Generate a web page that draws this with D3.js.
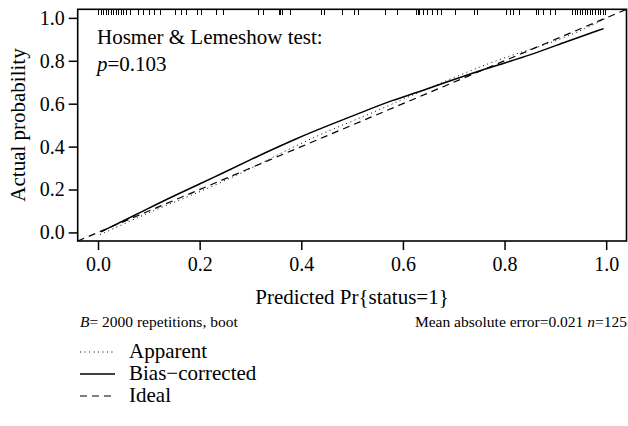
<!DOCTYPE html>
<html><head><meta charset="utf-8">
<script src="https://cdn.jsdelivr.net/npm/d3@7"></script>
<style>body{margin:0;background:#fff}svg{display:block}svg text{font-family:'Liberation Serif','Times New Roman','DejaVu Serif',serif !important;fill:#000}</style>
</head><body>
<svg id="c" width="628" height="426"></svg>
<script>
const xTicks = [0, 0.2, 0.4, 0.6, 0.8, 1.0];
const yTicks = [0, 0.2, 0.4, 0.6, 0.8, 1.0];
const biasX = [0.006, 0.086, 0.151, 0.23, 0.30, 0.397, 0.455, 0.521, 0.58, 0.632, 0.724, 0.789, 0.854, 0.92, 0.995];
const biasY = [0.003, 0.096, 0.173, 0.258, 0.34, 0.445, 0.5, 0.562, 0.617, 0.655, 0.733, 0.782, 0.829, 0.888, 0.95];
const appX = [0.004, 0.053, 0.118, 0.243, 0.37, 0.455, 0.521, 0.58, 0.658, 0.756, 0.822, 0.887, 0.95, 0.998];
const appY = [-0.01, 0.042, 0.112, 0.228, 0.383, 0.476, 0.538, 0.6, 0.68, 0.777, 0.833, 0.879, 0.94, 0.995];
const idealX = [-0.04, 1.04];
const rug = [0.0,0.005,0.01,0.015,0.02,0.025,0.03,0.035,0.04,0.045,0.05,0.055,0.063,0.079,0.089,0.100,0.110,0.122,
  0.151,0.163,0.174,0.194,0.202,0.233,0.246,0.315,0.324,0.356,0.359,0.363,0.377,0.439,0.444,0.481,0.504,0.511,
  0.565,0.589,0.626,0.629,0.632,0.640,0.648,0.658,0.667,0.675,0.703,0.740,0.746,0.802,0.810,0.816,0.828,
  0.861,0.866,0.875,0.890,0.900,0.933,0.938,0.943,0.948,0.953,0.958,0.963,0.968,0.973,0.978,0.983,0.988,0.993,0.998];
const legendItems = [
  {label:"Apparent", dash:"1,3.5", w:1},
  {label:"Bias\u2212corrected", dash:null, w:1.6},
  {label:"Ideal", dash:"7,5", w:1.2}
];

const FONT = "'Liberation Serif','Times New Roman','DejaVu Serif',serif";
const svg = d3.select("#c");
const x = d3.scaleLinear().domain([-0.04, 1.04]).range([77.7, 626.5]);
const y = d3.scaleLinear().domain([-0.04, 1.04]).range([241, 9.3]);

svg.append("defs").append("clipPath").attr("id","clip")
  .append("rect").attr("x",77.7).attr("y",9.3).attr("width",548.8).attr("height",231.7);

const xa = svg.append("g").attr("transform","translate(0,241)")
  .call(d3.axisBottom(x).tickValues(xTicks).tickFormat(d3.format(".1f")).tickSize(9).tickPadding(7));
xa.attr("font-family", FONT).attr("font-size", 20);
xa.select(".domain").remove();
xa.selectAll("line").attr("stroke-width",1.5);

const ya = svg.append("g").attr("transform","translate(77.7,0)")
  .call(d3.axisLeft(y).tickValues(yTicks).tickFormat(d3.format(".1f")).tickSize(9).tickPadding(4));
ya.attr("font-family", FONT).attr("font-size", 20);
ya.select(".domain").remove();
ya.selectAll("line").attr("stroke-width",1.5);

const plot = svg.append("g").attr("clip-path","url(#clip)");
plot.selectAll("line.rug").data(rug).join("line").attr("class","rug")
  .attr("x1",d=>Math.round(x(d))+0.5).attr("x2",d=>Math.round(x(d))+0.5).attr("y1",9.3).attr("y2",14.5)
  .attr("stroke","#000").attr("stroke-width",1.4).attr("shape-rendering","crispEdges");

const line = d3.line().x(d=>x(d[0])).y(d=>y(d[1])).curve(d3.curveBasis);
plot.append("path").datum(idealX.map(v=>[v,v])).attr("d",line)
  .attr("fill","none").attr("stroke","#000").attr("stroke-width",1.2).attr("stroke-dasharray","7,5");
plot.append("path").datum(appX.map((v,i)=>[v,appY[i]])).attr("d",line)
  .attr("fill","none").attr("stroke","#000").attr("stroke-width",1).attr("stroke-dasharray","1,3.5");
plot.append("path").datum(biasX.map((v,i)=>[v,biasY[i]])).attr("d",line)
  .attr("fill","none").attr("stroke","#000").attr("stroke-width",1.5);

svg.append("rect").attr("x",77.7).attr("y",9.3).attr("width",548.8).attr("height",231.7)
  .attr("fill","none").attr("stroke","#000").attr("stroke-width",1.6);

const T = (sel)=>sel.attr("font-family",FONT);
T(svg.append("text")).attr("x",97).attr("y",44).attr("font-size",21).text("Hosmer & Lemeshow test:");
const t2 = T(svg.append("text")).attr("x",97).attr("y",71).attr("font-size",21);
t2.append("tspan").style("font-style","italic").text("p");
t2.append("tspan").text("=0.103");

T(svg.append("text")).attr("x",352).attr("y",304).attr("text-anchor","middle").attr("font-size",21)
  .text("Predicted Pr{status=1}");
T(svg.append("text")).attr("transform","translate(25,125) rotate(-90)").attr("text-anchor","middle").attr("font-size",21)
  .text("Actual probability");

const f1 = T(svg.append("text")).attr("x",80).attr("y",327).attr("font-size",15.5);
f1.append("tspan").style("font-style","italic").text("B");
f1.append("tspan").text("= 2000 repetitions, boot");
const f2 = T(svg.append("text")).attr("x",627).attr("y",327).attr("text-anchor","end").attr("font-size",15.5);
f2.append("tspan").text("Mean absolute error=0.021 ");
f2.append("tspan").style("font-style","italic").text("n");
f2.append("tspan").text("=125");

const lg = svg.append("g");
legendItems.forEach((d,i)=>{
  const yy = 352 + i*22;
  lg.append("line").attr("x1",80).attr("x2",115).attr("y1",yy).attr("y2",yy)
    .attr("stroke","#000").attr("stroke-width",d.w).attr("stroke-dasharray",d.dash);
  T(lg.append("text")).attr("x",129).attr("y",yy+6).attr("font-size",21).text(d.label);
});
</script>
</body></html>
